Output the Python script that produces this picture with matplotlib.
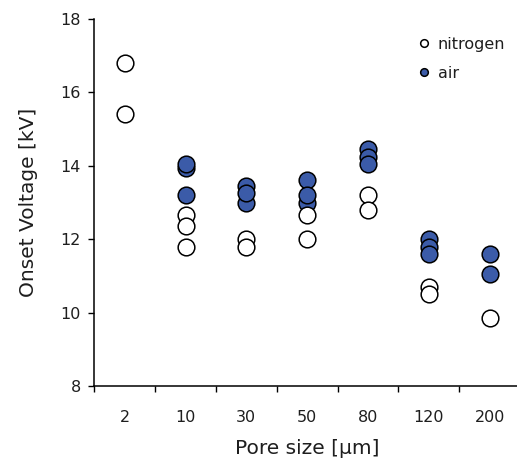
import matplotlib
matplotlib.use('Agg')
import matplotlib.pyplot as plt
from matplotlib.lines import Line2D
import numpy as np

# pore sizes (categories) and onset voltages, in kV
pore_sizes = ['2', '10', '30', '50', '80', '120', '200']
nitrogen = [
    [16.8, 15.4],
    [12.65, 12.35, 11.8],
    [12.0, 11.8],
    [12.65, 12.0],
    [13.2, 12.8],
    [10.7, 10.5],
    [9.85],
]
air = [
    [],
    [13.95, 14.05, 13.2],
    [13.45, 13.0, 13.25],
    [13.6, 13.0, 13.2],
    [14.45, 14.25, 14.05],
    [12.0, 11.8, 11.6],
    [11.6, 11.05],
]

blue = '#3b5ba8'
txt = '#1e1e1e'

fig = plt.figure(figsize=(5.17, 4.59), dpi=100)
ax = fig.add_axes([0.1824, 0.159, 0.8234, 0.7996])

for i, vals in enumerate(air):
    if vals:
        ax.plot([i] * len(vals), vals, 'o', ms=12, mfc=blue, mec='black', mew=1.1, zorder=3)
for i, vals in enumerate(nitrogen):
    ax.plot([i] * len(vals), vals, 'o', ms=12, mfc='white', mec='black', mew=1.1, zorder=4)

ax.set_xlim(-0.5, len(pore_sizes) - 0.5)
ax.set_ylim(8, 18)
ax.set_yticks(np.arange(8, 19, 2))

# labels at category centres, tick marks at the boundaries
ax.set_xticks(range(len(pore_sizes)))
ax.set_xticklabels(pore_sizes)
ax.set_xticks(np.arange(-0.5, len(pore_sizes), 1), minor=True)
ax.tick_params(axis='x', which='major', length=0, pad=17, labelsize=11.5, labelcolor=txt)
ax.tick_params(axis='x', which='minor', length=4, width=1, direction='out')
ax.tick_params(axis='y', length=4.5, width=1, direction='out', pad=5, labelsize=11.5, labelcolor=txt)

for s in ['top', 'right']:
    ax.spines[s].set_visible(False)
for s in ['left', 'bottom']:
    ax.spines[s].set_linewidth(1.1)

ax.set_xlabel('Pore size [\u00b5m]', fontsize=14.5, color=txt, labelpad=10)
ax.set_ylabel('Onset Voltage [kV]', fontsize=14.5, color=txt, labelpad=16.5)

handles = [
    Line2D([], [], ls='none', marker='o', ms=5.5, mfc='white', mec='black', mew=1.1),
    Line2D([], [], ls='none', marker='o', ms=5.5, mfc=blue, mec='black', mew=1.1),
]
ax.legend(handles, ['nitrogen', 'air'], loc='upper left', bbox_to_anchor=(410 / 517, 1 - 29 / 459),
          bbox_transform=fig.transFigure, frameon=False, fontsize=11.5, handlelength=0.8,
          handletextpad=0.45, labelspacing=0.85, borderpad=0, labelcolor=txt)

fig.savefig('out.png', dpi=100)
